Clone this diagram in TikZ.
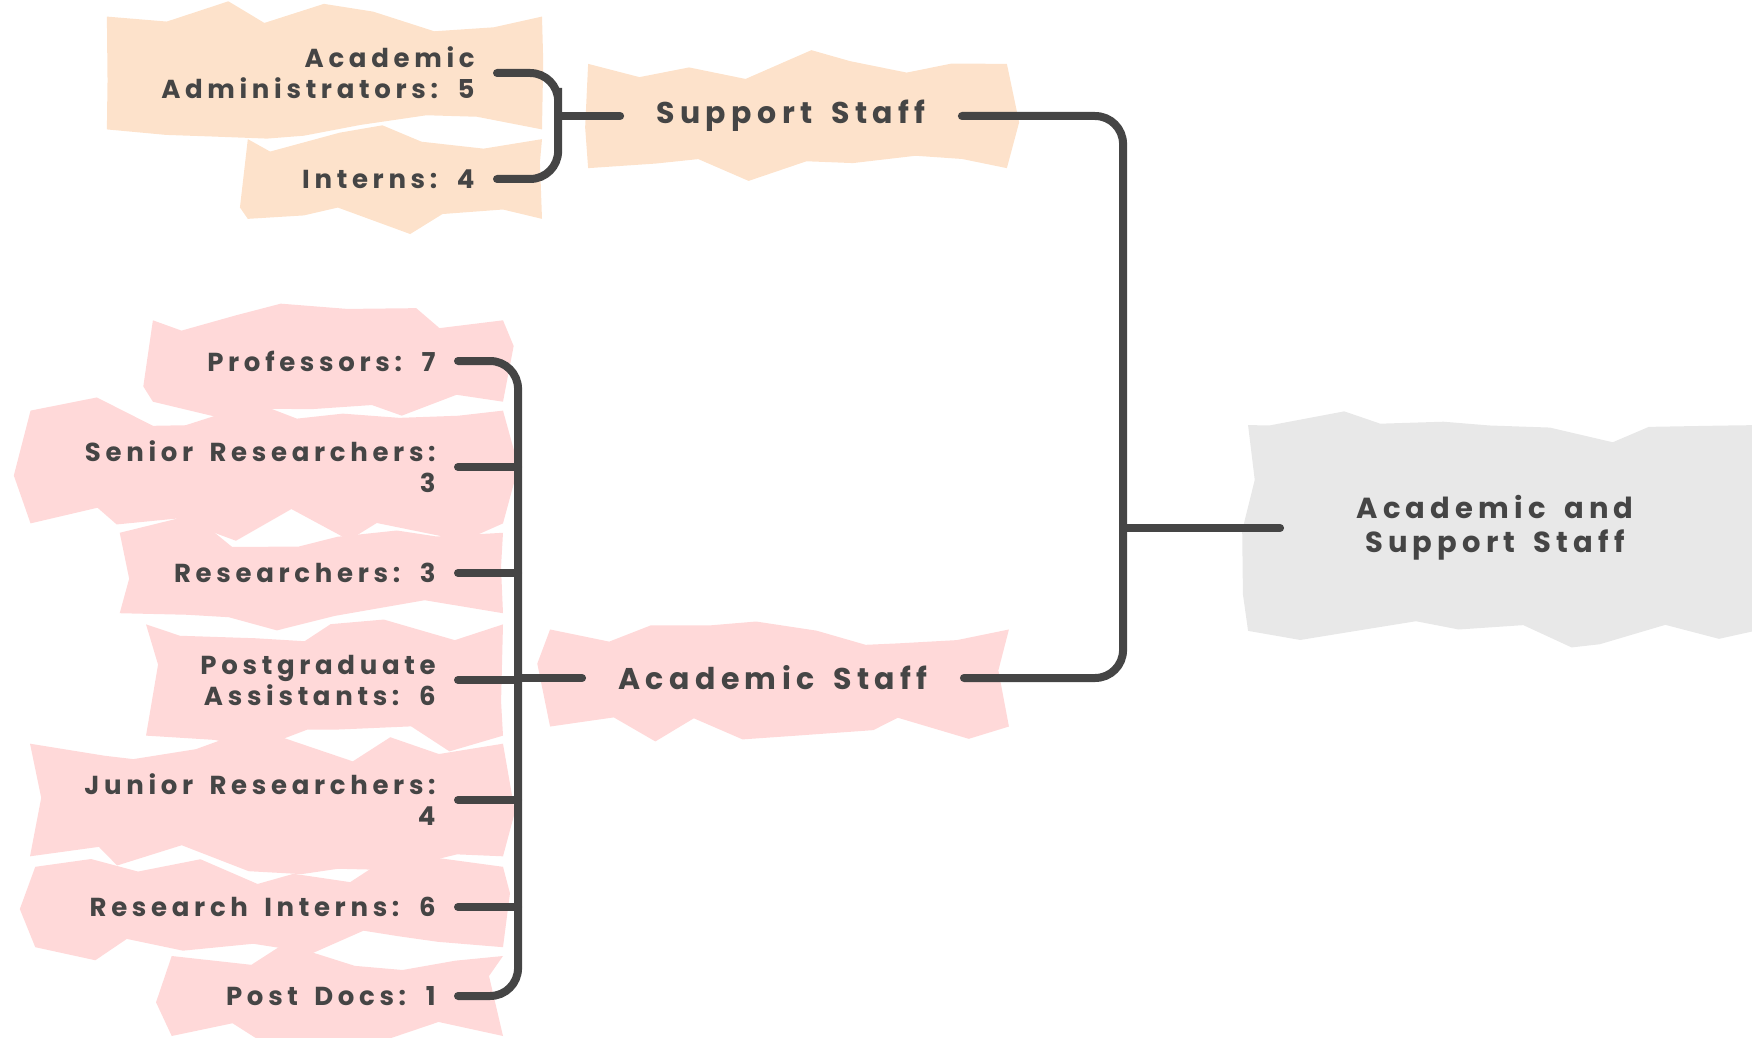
\documentclass[tikz,border=0pt]{standalone}
\usepackage{fontspec}
\setmainfont{Poppins}[LetterSpace=18,WordSpace=1.6]
\usetikzlibrary{positioning,calc,backgrounds,decorations.pathmorphing}
\definecolor{ink}{HTML}{454545}
\definecolor{peach}{HTML}{FDE2CB}
\definecolor{blush}{HTML}{FFD9D9}
\definecolor{mist}{HTML}{E8E8E8}
\tikzset{
  leaf/.style={inner xsep=11pt, inner ysep=0pt, align=right, anchor=east, text=ink,
    font=\fontsize{13}{15.5}\selectfont\bfseries},
  branch/.style={inner xsep=18pt, inner ysep=3pt, text=ink, font=\fontsize{15}{18}\selectfont\bfseries},
  rootbox/.style={inner xsep=38pt, inner ysep=20pt, align=center, text=ink,
    font=\fontsize{14.5}{17}\selectfont\bfseries},
  link/.style={draw=ink, line width=4pt, line cap=round, rounded corners=14pt},
  crumple/.style={decorate, decoration={random steps, segment length=26pt, amplitude=9pt}},
}
\newcommand\crumplefill[2]{\fill[#2,crumple] ([shift={(-32,-30)}]#1.north west) rectangle ([shift={(45,30)}]#1.south east);}
\pgfmathsetseed{11}
\begin{document}
\begin{tikzpicture}[x=0.5pt,y=-0.5pt]
  \useasboundingbox (0,0) rectangle (1752,1038);
  \node[leaf] (adm) at (497,73) {Academic\\Administrators: 5};
  \node[leaf] (int) at (497,179) {Interns: 4};
  \node[branch] (sup) at (791,116) {Support Staff};
  \node[branch] (acs) at (773,678) {Academic Staff};
  \node[rootbox] (root) at (1495,528) {Academic and\\Support Staff};
  \node[leaf] (prof) at (458,361) {Professors: 7};
  \node[leaf] (sen) at (458,467) {Senior Researchers:\\3};
  \node[leaf] (res) at (458,573) {Researchers: 3};
  \node[leaf] (pga) at (458,680) {Postgraduate\\Assistants: 6};
  \node[leaf] (jun) at (458,800) {Junior Researchers:\\4};
  \node[leaf] (rin) at (458,907) {Research Interns: 6};
  \node[leaf] (pd) at (458,996) {Post Docs: 1};
  \begin{pgfonlayer}{background}
    \crumplefill{adm}{peach}
    \crumplefill{int}{peach}
    \crumplefill{sup}{peach}
    \foreach \n in {prof,sen,res,pga,jun,rin,pd,acs} {\crumplefill{\n}{blush}}
    \crumplefill{root}{mist}
  \end{pgfonlayer}
  \coordinate (supspine) at ($(sup.west)+(-62,0)$);
  \coordinate (mainspine) at ($(root.west)+(-157,0)$);
  \coordinate (acspine) at ($(acs.west)+(-64,0)$);
  \draw[link] (adm.east) -| (supspine) |- (int.east);
  \draw[link] (supspine) -- (sup.west);
  \draw[link] (sup.east) -| (mainspine) |- (acs.east);
  \draw[link] (mainspine) -- (root.west);
  \draw[link] (prof.east) -| (acspine) |- (pd.east);
  \foreach \n in {sen,res,pga,jun,rin} {\draw[link] (\n.east) -- (\n.east -| acspine);}
  \draw[link] (acspine) -- (acs.west);
\end{tikzpicture}
\end{document}
